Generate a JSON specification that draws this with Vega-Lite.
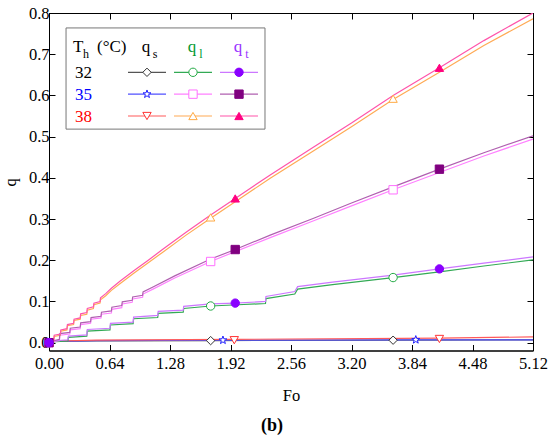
{
  "$schema": "https://vega.github.io/schema/vega-lite/v6.json",
  "width": 484,
  "height": 337.5,
  "autosize": "none",
  "padding": {"left": 49, "top": 13, "right": 17, "bottom": 89},
  "background": "white",
  "config": {
    "font": "Liberation Serif",
    "view": {"stroke": "black", "strokeWidth": 1},
    "axis": {
      "grid": false,
      "domainColor": "black",
      "tickColor": "black",
      "tickSize": -6,
      "labelFlush": false,
      "labelFont": "Liberation Serif, Times New Roman, serif",
      "labelFontSize": 16.5,
      "labelColor": "black",
      "titleFont": "Liberation Serif, Times New Roman, serif",
      "titleFontSize": 16.5,
      "titleFontWeight": "normal",
      "titleColor": "black"
    },
    "text": {"font": "Liberation Serif"}
  },
  "title": {
    "text": "(b)",
    "orient": "bottom",
    "anchor": "middle",
    "font": "Liberation Serif",
    "fontSize": 18,
    "fontWeight": "bold",
    "color": "black",
    "dx": -19,
    "offset": 13
  },
  "datasets": {
    "curves": [
      {"s": "qs32", "Fo": 0, "q": 0}, {"s": "qs32", "Fo": 0.05, "q": 0.003}, {"s": "qs32", "Fo": 0.5, "q": 0.004},
      {"s": "qs32", "Fo": 1.71, "q": 0.005}, {"s": "qs32", "Fo": 3.64, "q": 0.006}, {"s": "qs32", "Fo": 5.12, "q": 0.007},
      {"s": "qs35", "Fo": 0, "q": 0}, {"s": "qs35", "Fo": 0.05, "q": 0.003}, {"s": "qs35", "Fo": 0.5, "q": 0.005},
      {"s": "qs35", "Fo": 1.84, "q": 0.006}, {"s": "qs35", "Fo": 3.88, "q": 0.007}, {"s": "qs35", "Fo": 5.12, "q": 0.007},
      {"s": "qs38", "Fo": 0, "q": 0}, {"s": "qs38", "Fo": 0.1, "q": 0.004}, {"s": "qs38", "Fo": 0.5, "q": 0.006},
      {"s": "qs38", "Fo": 1.96, "q": 0.008}, {"s": "qs38", "Fo": 4.13, "q": 0.011}, {"s": "qs38", "Fo": 5.12, "q": 0.014},

      {"s": "ql32", "Fo": 0, "q": 0}, {"s": "ql32", "Fo": 0.03, "q": 0.002},
      {"s": "ql32", "Fo": 0.2, "q": 0.004}, {"s": "ql32", "Fo": 0.205, "q": 0.013},
      {"s": "ql32", "Fo": 0.4, "q": 0.016}, {"s": "ql32", "Fo": 0.405, "q": 0.028},
      {"s": "ql32", "Fo": 0.645, "q": 0.031}, {"s": "ql32", "Fo": 0.65, "q": 0.043},
      {"s": "ql32", "Fo": 0.89, "q": 0.046}, {"s": "ql32", "Fo": 0.895, "q": 0.058},
      {"s": "ql32", "Fo": 1.15, "q": 0.061}, {"s": "ql32", "Fo": 1.155, "q": 0.071},
      {"s": "ql32", "Fo": 1.42, "q": 0.074}, {"s": "ql32", "Fo": 1.425, "q": 0.083},
      {"s": "ql32", "Fo": 1.71, "q": 0.089}, {"s": "ql32", "Fo": 2.0, "q": 0.092},
      {"s": "ql32", "Fo": 2.29, "q": 0.095}, {"s": "ql32", "Fo": 2.295, "q": 0.107},
      {"s": "ql32", "Fo": 2.6, "q": 0.118}, {"s": "ql32", "Fo": 2.63, "q": 0.130},
      {"s": "ql32", "Fo": 3.0, "q": 0.141}, {"s": "ql32", "Fo": 3.64, "q": 0.158},
      {"s": "ql32", "Fo": 4.13, "q": 0.172}, {"s": "ql32", "Fo": 4.6, "q": 0.186}, {"s": "ql32", "Fo": 5.12, "q": 0.201},

      {"s": "ql35", "Fo": 0, "q": 0.001},
      {"s": "ql35", "Fo": 0.11, "q": 0.005}, {"s": "ql35", "Fo": 0.115, "q": 0.018},
      {"s": "ql35", "Fo": 0.22, "q": 0.021}, {"s": "ql35", "Fo": 0.225, "q": 0.031},
      {"s": "ql35", "Fo": 0.33, "q": 0.034}, {"s": "ql35", "Fo": 0.335, "q": 0.044},
      {"s": "ql35", "Fo": 0.44, "q": 0.047}, {"s": "ql35", "Fo": 0.445, "q": 0.057},
      {"s": "ql35", "Fo": 0.55, "q": 0.060}, {"s": "ql35", "Fo": 0.555, "q": 0.069},
      {"s": "ql35", "Fo": 0.66, "q": 0.072}, {"s": "ql35", "Fo": 0.665, "q": 0.081},
      {"s": "ql35", "Fo": 0.77, "q": 0.085}, {"s": "ql35", "Fo": 0.775, "q": 0.094},
      {"s": "ql35", "Fo": 0.88, "q": 0.098}, {"s": "ql35", "Fo": 0.885, "q": 0.106},
      {"s": "ql35", "Fo": 0.99, "q": 0.110}, {"s": "ql35", "Fo": 0.995, "q": 0.118},
      {"s": "ql35", "Fo": 1.1, "q": 0.130}, {"s": "ql35", "Fo": 1.33, "q": 0.157},
      {"s": "ql35", "Fo": 1.71, "q": 0.197}, {"s": "ql35", "Fo": 1.97, "q": 0.221},
      {"s": "ql35", "Fo": 2.34, "q": 0.255}, {"s": "ql35", "Fo": 2.8, "q": 0.296},
      {"s": "ql35", "Fo": 3.2, "q": 0.332}, {"s": "ql35", "Fo": 3.64, "q": 0.371},
      {"s": "ql35", "Fo": 4.13, "q": 0.413}, {"s": "ql35", "Fo": 4.6, "q": 0.453}, {"s": "ql35", "Fo": 5.12, "q": 0.494},

      {"s": "ql38", "Fo": 0, "q": 0},
      {"s": "ql38", "Fo": 0.05, "q": 0.002}, {"s": "ql38", "Fo": 0.055, "q": 0.015},
      {"s": "ql38", "Fo": 0.12, "q": 0.018}, {"s": "ql38", "Fo": 0.125, "q": 0.028},
      {"s": "ql38", "Fo": 0.19, "q": 0.031}, {"s": "ql38", "Fo": 0.195, "q": 0.041},
      {"s": "ql38", "Fo": 0.26, "q": 0.044}, {"s": "ql38", "Fo": 0.265, "q": 0.054},
      {"s": "ql38", "Fo": 0.33, "q": 0.057}, {"s": "ql38", "Fo": 0.335, "q": 0.066},
      {"s": "ql38", "Fo": 0.4, "q": 0.069}, {"s": "ql38", "Fo": 0.405, "q": 0.079},
      {"s": "ql38", "Fo": 0.47, "q": 0.083}, {"s": "ql38", "Fo": 0.475, "q": 0.092},
      {"s": "ql38", "Fo": 0.54, "q": 0.096}, {"s": "ql38", "Fo": 0.545, "q": 0.104},
      {"s": "ql38", "Fo": 0.6, "q": 0.114}, {"s": "ql38", "Fo": 0.66, "q": 0.127},
      {"s": "ql38", "Fo": 0.75, "q": 0.143}, {"s": "ql38", "Fo": 0.9, "q": 0.169},
      {"s": "ql38", "Fo": 1.05, "q": 0.194}, {"s": "ql38", "Fo": 1.2, "q": 0.219},
      {"s": "ql38", "Fo": 1.45, "q": 0.261}, {"s": "ql38", "Fo": 1.71, "q": 0.302},
      {"s": "ql38", "Fo": 1.97, "q": 0.342}, {"s": "ql38", "Fo": 2.34, "q": 0.399},
      {"s": "ql38", "Fo": 2.8, "q": 0.466}, {"s": "ql38", "Fo": 3.2, "q": 0.524},
      {"s": "ql38", "Fo": 3.64, "q": 0.590}, {"s": "ql38", "Fo": 4.13, "q": 0.656},
      {"s": "ql38", "Fo": 4.6, "q": 0.721}, {"s": "ql38", "Fo": 5.12, "q": 0.786},

      {"s": "qt32", "Fo": 0, "q": 0}, {"s": "qt32", "Fo": 0.03, "q": 0.004},
      {"s": "qt32", "Fo": 0.2, "q": 0.007}, {"s": "qt32", "Fo": 0.205, "q": 0.016},
      {"s": "qt32", "Fo": 0.4, "q": 0.019}, {"s": "qt32", "Fo": 0.405, "q": 0.032},
      {"s": "qt32", "Fo": 0.645, "q": 0.035}, {"s": "qt32", "Fo": 0.65, "q": 0.047},
      {"s": "qt32", "Fo": 0.89, "q": 0.050}, {"s": "qt32", "Fo": 0.895, "q": 0.062},
      {"s": "qt32", "Fo": 1.15, "q": 0.066}, {"s": "qt32", "Fo": 1.155, "q": 0.076},
      {"s": "qt32", "Fo": 1.42, "q": 0.079}, {"s": "qt32", "Fo": 1.425, "q": 0.088},
      {"s": "qt32", "Fo": 1.71, "q": 0.094}, {"s": "qt32", "Fo": 1.97, "q": 0.096},
      {"s": "qt32", "Fo": 2.29, "q": 0.100}, {"s": "qt32", "Fo": 2.295, "q": 0.112},
      {"s": "qt32", "Fo": 2.6, "q": 0.124}, {"s": "qt32", "Fo": 2.63, "q": 0.136},
      {"s": "qt32", "Fo": 3.0, "q": 0.147}, {"s": "qt32", "Fo": 3.64, "q": 0.164},
      {"s": "qt32", "Fo": 4.13, "q": 0.179}, {"s": "qt32", "Fo": 4.6, "q": 0.193}, {"s": "qt32", "Fo": 5.12, "q": 0.208},

      {"s": "qt35", "Fo": 0, "q": 0.002},
      {"s": "qt35", "Fo": 0.11, "q": 0.008}, {"s": "qt35", "Fo": 0.115, "q": 0.022},
      {"s": "qt35", "Fo": 0.22, "q": 0.025}, {"s": "qt35", "Fo": 0.225, "q": 0.035},
      {"s": "qt35", "Fo": 0.33, "q": 0.038}, {"s": "qt35", "Fo": 0.335, "q": 0.048},
      {"s": "qt35", "Fo": 0.44, "q": 0.051}, {"s": "qt35", "Fo": 0.445, "q": 0.061},
      {"s": "qt35", "Fo": 0.55, "q": 0.064}, {"s": "qt35", "Fo": 0.555, "q": 0.074},
      {"s": "qt35", "Fo": 0.66, "q": 0.077}, {"s": "qt35", "Fo": 0.665, "q": 0.086},
      {"s": "qt35", "Fo": 0.77, "q": 0.090}, {"s": "qt35", "Fo": 0.775, "q": 0.099},
      {"s": "qt35", "Fo": 0.88, "q": 0.103}, {"s": "qt35", "Fo": 0.885, "q": 0.111},
      {"s": "qt35", "Fo": 0.99, "q": 0.115}, {"s": "qt35", "Fo": 0.995, "q": 0.123},
      {"s": "qt35", "Fo": 1.1, "q": 0.135}, {"s": "qt35", "Fo": 1.33, "q": 0.162},
      {"s": "qt35", "Fo": 1.71, "q": 0.203}, {"s": "qt35", "Fo": 1.97, "q": 0.226},
      {"s": "qt35", "Fo": 2.34, "q": 0.261}, {"s": "qt35", "Fo": 2.8, "q": 0.302},
      {"s": "qt35", "Fo": 3.2, "q": 0.339}, {"s": "qt35", "Fo": 3.64, "q": 0.378},
      {"s": "qt35", "Fo": 4.13, "q": 0.421}, {"s": "qt35", "Fo": 4.6, "q": 0.461}, {"s": "qt35", "Fo": 5.12, "q": 0.502},

      {"s": "qt38", "Fo": 0, "q": 0.003},
      {"s": "qt38", "Fo": 0.05, "q": 0.005}, {"s": "qt38", "Fo": 0.055, "q": 0.018},
      {"s": "qt38", "Fo": 0.12, "q": 0.021}, {"s": "qt38", "Fo": 0.125, "q": 0.031},
      {"s": "qt38", "Fo": 0.19, "q": 0.034}, {"s": "qt38", "Fo": 0.195, "q": 0.044},
      {"s": "qt38", "Fo": 0.26, "q": 0.047}, {"s": "qt38", "Fo": 0.265, "q": 0.057},
      {"s": "qt38", "Fo": 0.33, "q": 0.060}, {"s": "qt38", "Fo": 0.335, "q": 0.070},
      {"s": "qt38", "Fo": 0.4, "q": 0.073}, {"s": "qt38", "Fo": 0.405, "q": 0.083},
      {"s": "qt38", "Fo": 0.47, "q": 0.087}, {"s": "qt38", "Fo": 0.475, "q": 0.096},
      {"s": "qt38", "Fo": 0.54, "q": 0.100}, {"s": "qt38", "Fo": 0.545, "q": 0.109},
      {"s": "qt38", "Fo": 0.6, "q": 0.119}, {"s": "qt38", "Fo": 0.66, "q": 0.132},
      {"s": "qt38", "Fo": 0.75, "q": 0.149}, {"s": "qt38", "Fo": 0.9, "q": 0.175},
      {"s": "qt38", "Fo": 1.05, "q": 0.200}, {"s": "qt38", "Fo": 1.2, "q": 0.226},
      {"s": "qt38", "Fo": 1.45, "q": 0.268}, {"s": "qt38", "Fo": 1.71, "q": 0.310},
      {"s": "qt38", "Fo": 1.97, "q": 0.350}, {"s": "qt38", "Fo": 2.34, "q": 0.407},
      {"s": "qt38", "Fo": 2.8, "q": 0.475}, {"s": "qt38", "Fo": 3.2, "q": 0.533},
      {"s": "qt38", "Fo": 3.64, "q": 0.600}, {"s": "qt38", "Fo": 4.13, "q": 0.667},
      {"s": "qt38", "Fo": 4.6, "q": 0.733}, {"s": "qt38", "Fo": 5.12, "q": 0.800}
    ],
    "markers": [
      {"s": "qs32", "Fo": 0, "q": 0}, {"s": "qs35", "Fo": 0, "q": 0}, {"s": "qs38", "Fo": 0, "q": 0},
      {"s": "ql32", "Fo": 0, "q": 0}, {"s": "ql35", "Fo": 0, "q": 0}, {"s": "ql38", "Fo": 0, "q": 0},
      {"s": "qt38", "Fo": 0, "q": 0}, {"s": "qt35", "Fo": 0, "q": 0}, {"s": "qt32", "Fo": 0, "q": 0},
      {"s": "qs32", "Fo": 1.71, "q": 0.005}, {"s": "qs32", "Fo": 3.64, "q": 0.006},
      {"s": "qs35", "Fo": 1.84, "q": 0.006}, {"s": "qs35", "Fo": 3.88, "q": 0.007},
      {"s": "qs38", "Fo": 1.96, "q": 0.006}, {"s": "qs38", "Fo": 4.13, "q": 0.009},
      {"s": "ql32", "Fo": 1.71, "q": 0.089}, {"s": "ql32", "Fo": 3.64, "q": 0.158},
      {"s": "ql35", "Fo": 1.71, "q": 0.197}, {"s": "ql35", "Fo": 3.64, "q": 0.371},
      {"s": "ql38", "Fo": 1.71, "q": 0.304}, {"s": "ql38", "Fo": 3.64, "q": 0.592},
      {"s": "qt32", "Fo": 1.97, "q": 0.096}, {"s": "qt32", "Fo": 4.13, "q": 0.179},
      {"s": "qt35", "Fo": 1.97, "q": 0.226}, {"s": "qt35", "Fo": 4.13, "q": 0.421},
      {"s": "qt38", "Fo": 1.97, "q": 0.350}, {"s": "qt38", "Fo": 4.13, "q": 0.667}
    ],
    "key": [
      {"s": "qs32", "lc": 1, "lr": 1}, {"s": "ql32", "lc": 2, "lr": 1}, {"s": "qt32", "lc": 3, "lr": 1},
      {"s": "qs35", "lc": 1, "lr": 2}, {"s": "ql35", "lc": 2, "lr": 2}, {"s": "qt35", "lc": 3, "lr": 2},
      {"s": "qs38", "lc": 1, "lr": 3}, {"s": "ql38", "lc": 2, "lr": 3}, {"s": "qt38", "lc": 3, "lr": 3}
    ],
    "temps": [
      {"lc": 0, "lr": 1, "t": "32"}, {"lc": 0, "lr": 2, "t": "35"}, {"lc": 0, "lr": 3, "t": "38"}
    ],
    "heads": [
      {"lc": 1, "lr": 0, "t": "q", "sub": "s"},
      {"lc": 2, "lr": 0, "t": "q", "sub": "l"},
      {"lc": 3, "lr": 0, "t": "q", "sub": "t"}
    ],
    "unit": [{"lc": 0, "lr": 0}]
  },
  "layer": [
    {
      "layer": [
        {
          "data": {"name": "curves"},
          "mark": {"type": "line", "strokeWidth": 1.2, "clip": true},
          "encoding": {
            "x": {
              "field": "Fo", "type": "quantitative",
              "scale": {"domain": [0, 5.12], "nice": false},
              "axis": {"values": [0, 0.64, 1.28, 1.92, 2.56, 3.2, 3.84, 4.48, 5.12], "format": ".2f", "title": "Fo", "labelFlush": false, "labelFont": "Liberation Serif, Times New Roman, serif", "titleFont": "Liberation Serif, Times New Roman, serif", "labelPadding": 11, "titlePadding": 15}
            },
            "y": {
              "field": "q", "type": "quantitative",
              "scale": {"domain": [-0.019, 0.8], "nice": false, "zero": false},
              "axis": {"values": [0, 0.1, 0.2, 0.3, 0.4, 0.5, 0.6, 0.7, 0.8], "format": ".1f", "title": "q", "labelFlush": false, "labelFont": "Liberation Serif, Times New Roman, serif", "titleFont": "Liberation Serif, Times New Roman, serif", "labelPadding": 6, "titlePadding": 10}
            },
            "color": {
              "field": "s", "type": "nominal", "legend": null,
              "scale": {
                "domain": ["qs32", "qs35", "qs38", "ql32", "ql35", "ql38", "qt32", "qt35", "qt38"],
                "range": ["#555555", "#5050ff", "#ff5a5a", "#33aa55", "#ff80ff", "#ffaa55", "#cc77ff", "#b060b0", "#ff55aa"]
              }
            }
          }
        },
        {
          "data": {"name": "markers"},
          "mark": {"type": "point", "filled": true, "opacity": 1, "size": 70, "strokeWidth": 1},
          "encoding": {
            "x": {
              "field": "Fo", "type": "quantitative",
              "axis": {"orient": "top", "labels": false, "title": null, "values": [0, 0.64, 1.28, 1.92, 2.56, 3.2, 3.84, 4.48, 5.12]}
            },
            "y": {
              "field": "q", "type": "quantitative",
              "axis": {"orient": "right", "labels": false, "title": null, "values": [0, 0.1, 0.2, 0.3, 0.4, 0.5, 0.6, 0.7, 0.8]}
            },
            "shape": {
              "field": "s", "type": "nominal", "legend": null,
              "scale": {
                "domain": ["qs32", "qs35", "qs38", "ql32", "ql35", "ql38", "qt32", "qt35", "qt38"],
                "range": ["diamond", "M0,-1L0.235,-0.324L0.951,-0.309L0.38,0.124L0.588,0.809L0,0.4L-0.588,0.809L-0.38,0.124L-0.951,-0.309L-0.235,-0.324Z", "triangle-down", "circle", "square", "triangle-up", "circle", "square", "triangle-up"]
              }
            },
            "fill": {
              "field": "s", "type": "nominal", "legend": null,
              "scale": {
                "domain": ["qs32", "qs35", "qs38", "ql32", "ql35", "ql38", "qt32", "qt35", "qt38"],
                "range": ["white", "white", "white", "white", "white", "white", "#8a00ff", "#800080", "#ff0080"]
              }
            },
            "stroke": {
              "field": "s", "type": "nominal", "legend": null,
              "scale": {
                "domain": ["qs32", "qs35", "qs38", "ql32", "ql35", "ql38", "qt32", "qt35", "qt38"],
                "range": ["#333333", "#2020ff", "#ff3333", "#22aa44", "#ff70ff", "#ffaa44", "#8a00ff", "#800080", "#ff0080"]
              }
            }
          }
        }
      ],
      "resolve": {"axis": {"x": "independent", "y": "independent"}}
    },
    {
      "layer": [
        {
          "data": {"name": "unit"},
          "mark": {"type": "rect", "fill": "white", "stroke": "#777777", "strokeWidth": 1},
          "encoding": {
            "x": {"datum": -0.76, "type": "quantitative", "scale": {"domain": [-1.1304, 9.3913], "nice": false, "zero": false}, "axis": null},
            "x2": {"datum": 3.565},
            "y": {"datum": -1.03, "type": "quantitative", "scale": {"domain": [-1.714, 13.732], "nice": false, "zero": false, "reverse": true}, "axis": null},
            "y2": {"datum": 3.6}
          }
        },
        {
          "data": {"name": "key"},
          "mark": {"type": "rule", "strokeWidth": 1.2, "xOffset": -19, "x2Offset": 19},
          "encoding": {
            "x": {"field": "lc", "type": "quantitative", "axis": null},
            "x2": {"field": "lc"},
            "y": {"field": "lr", "type": "quantitative", "axis": null},
            "color": {"field": "s", "type": "nominal", "legend": null}
          }
        },
        {
          "data": {"name": "key"},
          "mark": {"type": "point", "filled": true, "opacity": 1, "size": 70, "strokeWidth": 1},
          "encoding": {
            "x": {"field": "lc", "type": "quantitative", "axis": null},
            "y": {"field": "lr", "type": "quantitative", "axis": null},
            "shape": {"field": "s", "type": "nominal", "legend": null},
            "fill": {"field": "s", "type": "nominal", "legend": null},
            "stroke": {"field": "s", "type": "nominal", "legend": null}
          }
        },
        {
          "data": {"name": "temps"},
          "mark": {"type": "text", "font": "Liberation Serif", "align": "left", "baseline": "alphabetic", "dx": -26, "dy": 6, "fontSize": 17},
          "encoding": {
            "x": {"field": "lc", "type": "quantitative", "axis": null},
            "y": {"field": "lr", "type": "quantitative", "axis": null},
            "text": {"field": "t"},
            "color": {
              "condition": [
                {"test": "datum.t === '35'", "value": "#0000ff"},
                {"test": "datum.t === '38'", "value": "#ff0000"}
              ],
              "value": "black"
            }
          }
        },
        {
          "data": {"name": "heads"},
          "mark": {"type": "text", "font": "Liberation Serif", "align": "center", "baseline": "alphabetic", "dx": -1, "dy": 1.5, "fontSize": 17},
          "encoding": {
            "x": {"field": "lc", "type": "quantitative", "axis": null},
            "y": {"field": "lr", "type": "quantitative", "axis": null},
            "text": {"field": "t"},
            "color": {
              "condition": [
                {"test": "datum.sub === 'l'", "value": "#009933"},
                {"test": "datum.sub === 't'", "value": "#9933ff"}
              ],
              "value": "black"
            }
          }
        },
        {
          "data": {"name": "heads"},
          "mark": {"type": "text", "font": "Liberation Serif", "align": "center", "baseline": "alphabetic", "dx": 8, "dy": 7.5, "fontSize": 12},
          "encoding": {
            "x": {"field": "lc", "type": "quantitative", "axis": null},
            "y": {"field": "lr", "type": "quantitative", "axis": null},
            "text": {"field": "sub"},
            "color": {
              "condition": [
                {"test": "datum.sub === 'l'", "value": "#009933"},
                {"test": "datum.sub === 't'", "value": "#9933ff"}
              ],
              "value": "black"
            }
          }
        },
        {
          "data": {"name": "unit"},
          "mark": {"type": "text", "font": "Liberation Serif", "align": "left", "baseline": "alphabetic", "dx": -28, "dy": 1.5, "fontSize": 17, "text": "T", "color": "black"},
          "encoding": {
            "x": {"field": "lc", "type": "quantitative", "axis": null},
            "y": {"field": "lr", "type": "quantitative", "axis": null}
          }
        },
        {
          "data": {"name": "unit"},
          "mark": {"type": "text", "font": "Liberation Serif", "align": "left", "baseline": "alphabetic", "dx": -18, "dy": 7.5, "fontSize": 12, "text": "h", "color": "black"},
          "encoding": {
            "x": {"field": "lc", "type": "quantitative", "axis": null},
            "y": {"field": "lr", "type": "quantitative", "axis": null}
          }
        },
        {
          "data": {"name": "unit"},
          "mark": {"type": "text", "font": "Liberation Serif", "align": "left", "baseline": "alphabetic", "dx": -4, "dy": 1.5, "fontSize": 17, "text": "(°C)", "color": "black"},
          "encoding": {
            "x": {"field": "lc", "type": "quantitative", "axis": null},
            "y": {"field": "lr", "type": "quantitative", "axis": null}
          }
        }
      ]
    }
  ],
  "resolve": {"scale": {"x": "independent", "y": "independent"}}
}
